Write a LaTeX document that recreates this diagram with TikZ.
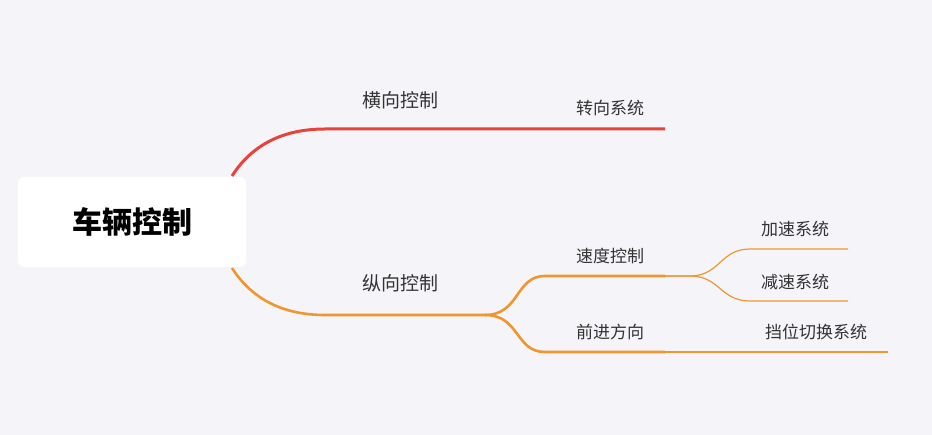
\documentclass[tikz,border=0pt]{standalone}
\usepackage{fontspec}
\setmainfont{Noto Sans CJK SC}
\definecolor{bgc}{HTML}{F5F5F9}
\definecolor{redb}{HTML}{E8433A}
\definecolor{orab}{HTML}{F0962E}
\definecolor{txt}{HTML}{333333}
\begin{document}
\begin{tikzpicture}[x=1pt,y=-1pt,
  lbl/.style={text=txt,font=\fontsize{19}{19}\selectfont,inner sep=0pt},
  sublbl/.style={text=txt,font=\fontsize{17}{17}\selectfont,inner sep=0pt},
  redline/.style={draw=redb,line width=3pt},
  oraline/.style={draw=orab,line width=2.6pt},
  thinline/.style={draw=orab,line width=1.2pt}]
  \fill[bgc] (0,0) rectangle (932,435);
  \useasboundingbox (0,0) rectangle (932,435);
  \node[fill=white,rounded corners=6pt,minimum width=228pt,minimum height=90pt,
        font=\fontsize{30}{30}\selectfont\bfseries] (root) at (132,222) {车辆控制};

  %% first level
  \coordinate (r1) at (232,176);
  \coordinate (hA) at (325,129);
  \coordinate (hB) at (665,129);
  \coordinate (r2) at (232,268);
  \coordinate (zA) at (325,315);
  \coordinate (zB) at (485,315);
  \node[lbl] (heng) at (400,100) {横向控制};
  \node[lbl] (zong) at (400,283) {纵向控制};
  \draw[redline] (r1) .. controls (255,140) and (290,129) .. (hA) -- (hB);
  \draw[oraline] (r2) .. controls (255,304) and (290,315) .. (zA) -- (zB);
  \node[sublbl] (zhuan) at (610,108) {转向系统};

  %% second level
  \coordinate (sA) at (545,276);
  \coordinate (sB) at (665,276);
  \coordinate (qA) at (545,352);
  \coordinate (qB) at (665,352);
  \node[sublbl] (sudu) at (610,256) {速度控制};
  \node[sublbl] (qian) at (610,332) {前进方向};
  \draw[oraline] (zB) .. controls (520,315) and (515,276) .. (sA) -- (sB);
  \draw[oraline] (zB) .. controls (520,315) and (515,352) .. (qA) -- (qB);

  %% third level
  \coordinate (jA) at (750,249);
  \coordinate (jB) at (848,249);
  \coordinate (dA) at (750,301);
  \coordinate (dB) at (848,301);
  \coordinate (gB) at (888,352);
  \node[sublbl] (jia) at (795,229) {加速系统};
  \node[sublbl] (jian) at (795,282) {减速系统};
  \node[sublbl] (dang) at (816,332) {挡位切换系统};
  \draw[thinline] (sB) -- (690,276) .. controls (720,276) and (720,249) .. (jA) -- (jB);
  \draw[thinline] (sB) -- (690,276) .. controls (720,276) and (720,301) .. (dA) -- (dB);
  \draw[thinline] (qB) -- (gB);
\end{tikzpicture}
\end{document}
